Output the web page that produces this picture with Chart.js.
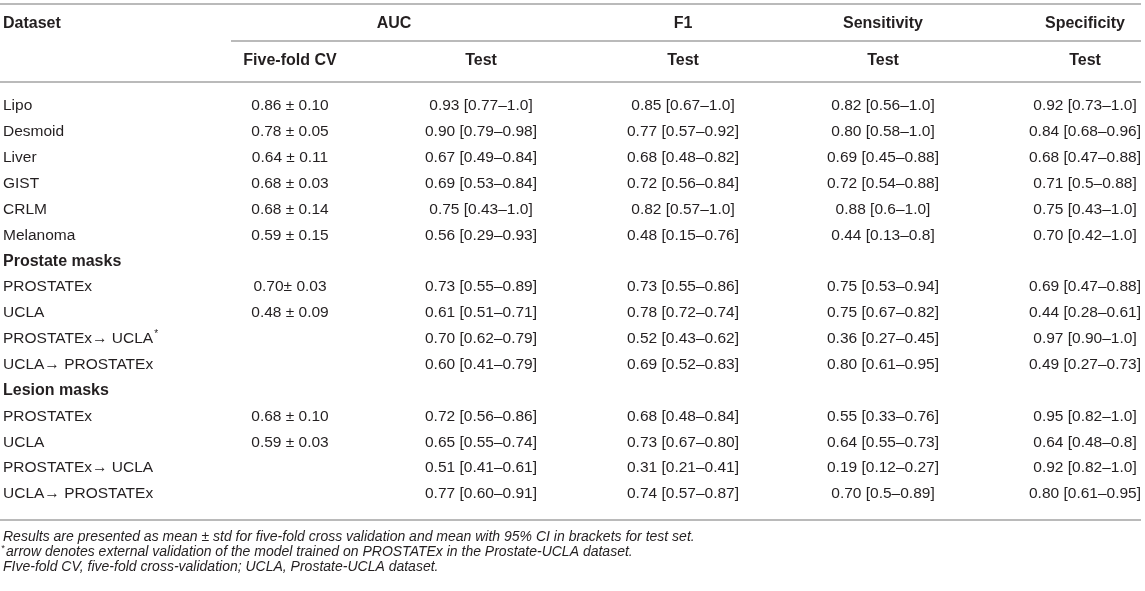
<!DOCTYPE html>
<html>
<head>
<meta charset="utf-8">
<script src="https://cdn.jsdelivr.net/npm/chart.js@4"></script>
<style>
  html, body { margin: 0; padding: 0; background: #fff; }
  #wrap { width: 1145px; height: 591px; position: relative; }
</style>
</head>
<body>
<div id="wrap"><canvas id="Table-Chart"></canvas></div>
<script>
// rows of the table
const rowLabels = ["Lipo", "Desmoid", "Liver", "GIST", "CRLM", "Melanoma",
  "Prostate masks", "PROSTATEx", "UCLA", "PROSTATEx\u2192 UCLA", "UCLA\u2192 PROSTATEx",
  "Lesion masks", "PROSTATEx", "UCLA", "PROSTATEx\u2192 UCLA", "UCLA\u2192 PROSTATEx"];
const sectionRows = [6, 11];
const starredRows = [9];

const groupHeaders = ["AUC", "F1", "Sensitivity", "Specificity"];
const subHeaders = ["Five-fold CV", "Test", "Test", "Test", "Test"];

const aucCV = ["0.86 \u00b1 0.10", "0.78 \u00b1 0.05", "0.64 \u00b1 0.11", "0.68 \u00b1 0.03", "0.68 \u00b1 0.14", "0.59 \u00b1 0.15",
  "", "0.70\u00b1 0.03", "0.48 \u00b1 0.09", "", "",
  "", "0.68 \u00b1 0.10", "0.59 \u00b1 0.03", "", ""];
const aucTest = ["0.93 [0.77\u20131.0]", "0.90 [0.79\u20130.98]", "0.67 [0.49\u20130.84]", "0.69 [0.53\u20130.84]", "0.75 [0.43\u20131.0]", "0.56 [0.29\u20130.93]",
  "", "0.73 [0.55\u20130.89]", "0.61 [0.51\u20130.71]", "0.70 [0.62\u20130.79]", "0.60 [0.41\u20130.79]",
  "", "0.72 [0.56\u20130.86]", "0.65 [0.55\u20130.74]", "0.51 [0.41\u20130.61]", "0.77 [0.60\u20130.91]"];
const f1Test = ["0.85 [0.67\u20131.0]", "0.77 [0.57\u20130.92]", "0.68 [0.48\u20130.82]", "0.72 [0.56\u20130.84]", "0.82 [0.57\u20131.0]", "0.48 [0.15\u20130.76]",
  "", "0.73 [0.55\u20130.86]", "0.78 [0.72\u20130.74]", "0.52 [0.43\u20130.62]", "0.69 [0.52\u20130.83]",
  "", "0.68 [0.48\u20130.84]", "0.73 [0.67\u20130.80]", "0.31 [0.21\u20130.41]", "0.74 [0.57\u20130.87]"];
const sensTest = ["0.82 [0.56\u20131.0]", "0.80 [0.58\u20131.0]", "0.69 [0.45\u20130.88]", "0.72 [0.54\u20130.88]", "0.88 [0.6\u20131.0]", "0.44 [0.13\u20130.8]",
  "", "0.75 [0.53\u20130.94]", "0.75 [0.67\u20130.82]", "0.36 [0.27\u20130.45]", "0.80 [0.61\u20130.95]",
  "", "0.55 [0.33\u20130.76]", "0.64 [0.55\u20130.73]", "0.19 [0.12\u20130.27]", "0.70 [0.5\u20130.89]"];
const specTest = ["0.92 [0.73\u20131.0]", "0.84 [0.68\u20130.96]", "0.68 [0.47\u20130.88]", "0.71 [0.5\u20130.88]", "0.75 [0.43\u20131.0]", "0.70 [0.42\u20131.0]",
  "", "0.69 [0.47\u20130.88]", "0.44 [0.28\u20130.61]", "0.97 [0.90\u20131.0]", "0.49 [0.27\u20130.73]",
  "", "0.95 [0.82\u20131.0]", "0.64 [0.48\u20130.8]", "0.92 [0.82\u20131.0]", "0.80 [0.61\u20130.95]"];

const footnotes = [
  "Results are presented as mean \u00b1 std for five-fold cross validation and mean with 95% CI in brackets for test set.",
  "arrow denotes external validation of the model trained on PROSTATEx in the Prostate-UCLA dataset.",
  "FIve-fold CV, five-fold cross-validation; UCLA, Prostate-UCLA dataset."
];

// layout (x positions on the linear axis)
const columns = [aucCV, aucTest, f1Test, sensTest, specTest];
const colX = [290, 481, 683, 883, 1085];
const groupX = [394, 683, 883, 1085];
const labelX = 3;
const ruleStartSub = 231;

const FONT = '"Liberation Sans", Arial, Helvetica, sans-serif';
const TEXT = "#231f20";
const RULE = "#a3a3a3";

const tablePlugin = {
  id: "tableText",
  afterDraw(chart) {
    const ctx = chart.ctx;
    const xs = chart.scales.x, ys = chart.scales.y;
    const area = chart.chartArea;
    const right = xs.getPixelForValue(1141);
    ctx.save();

    function rule(x0, x1, y) {
      ctx.strokeStyle = RULE;
      ctx.lineWidth = 1.5;
      ctx.beginPath();
      ctx.moveTo(x0, y);
      ctx.lineTo(x1, y);
      ctx.stroke();
    }

    // rules
    rule(0, right, area.top - 89);
    rule(xs.getPixelForValue(ruleStartSub), right, area.top - 52);
    rule(0, right, area.top - 11);
    rule(0, right, area.bottom + 13);

    ctx.fillStyle = TEXT;
    ctx.textBaseline = "middle";

    // headers
    ctx.font = "bold 16px " + FONT;
    ctx.textAlign = "left";
    ctx.fillText("Dataset", xs.getPixelForValue(labelX), area.top - 69);
    ctx.textAlign = "center";
    groupHeaders.forEach((h, i) => ctx.fillText(h, xs.getPixelForValue(groupX[i]), area.top - 69));
    subHeaders.forEach((h, i) => ctx.fillText(h, xs.getPixelForValue(colX[i]), area.top - 32));

    // body rows
    rowLabels.forEach((lab, r) => {
      const y = ys.getPixelForValue(r);
      const bold = sectionRows.includes(r);
      ctx.font = (bold ? "bold 16px " : "15.5px ") + FONT;
      ctx.textAlign = "left";
      const lx = xs.getPixelForValue(labelX);
      ctx.fillText(lab, lx, y);
      if (starredRows.includes(r)) {
        const w = ctx.measureText(lab).width;
        ctx.font = "10px " + FONT;
        ctx.fillText("*", lx + w + 1, y - 5);
      }
      ctx.font = "15.5px " + FONT;
      ctx.textAlign = "center";
      columns.forEach((col, c) => {
        if (col[r]) ctx.fillText(col[r], xs.getPixelForValue(colX[c]), y);
      });
    });

    // footnotes
    ctx.textAlign = "left";
    const fy = [area.bottom + 30, area.bottom + 45, area.bottom + 60];
    ctx.font = "italic 14px " + FONT;
    ctx.fillText(footnotes[0], xs.getPixelForValue(labelX), fy[0]);
    ctx.font = "italic 9px " + FONT;
    ctx.fillText("*", xs.getPixelForValue(1), fy[1] - 4);
    ctx.font = "italic 14px " + FONT;
    ctx.fillText(footnotes[1], xs.getPixelForValue(6), fy[1]);
    ctx.fillText(footnotes[2], xs.getPixelForValue(labelX), fy[2]);

    ctx.restore();
  }
};

const config = {
  type: "scatter",
  data: {
    labels: rowLabels,
    datasets: []
  },
  options: {
    responsive: true,
    maintainAspectRatio: false,
    animation: false,
    layout: { padding: { top: 93, bottom: 84, left: 0, right: 0 } },
    plugins: {
      legend: { display: false },
      tooltip: { enabled: false }
    },
    scales: {
      x: { type: "linear", min: 0, max: 1145, display: false },
      y: { type: "category", labels: rowLabels, offset: true, display: false }
    }
  },
  plugins: [tablePlugin]
};

let myChart = new Chart(document.getElementById("Table-Chart"), config);
</script>
</body>
</html>
